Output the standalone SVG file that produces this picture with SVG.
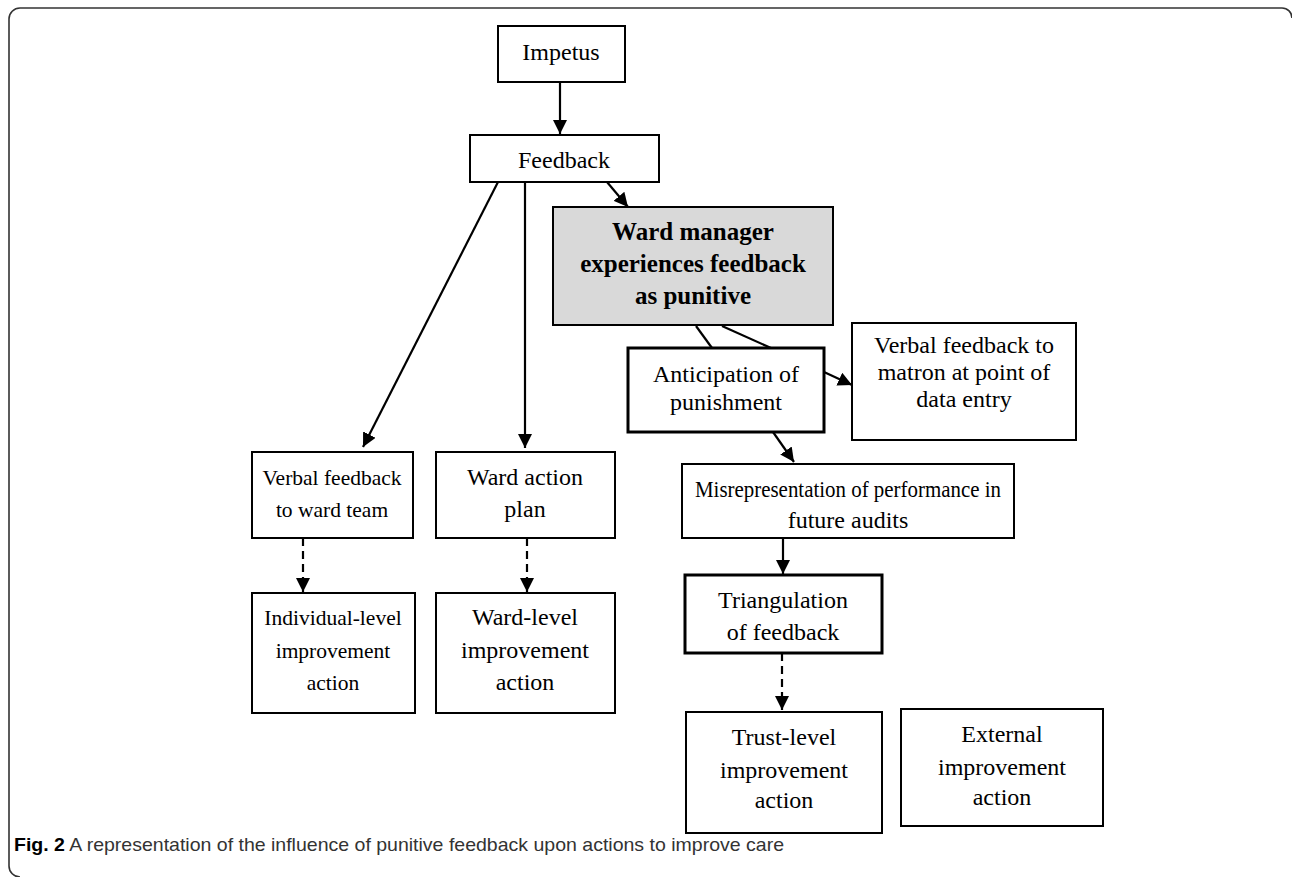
<svg xmlns="http://www.w3.org/2000/svg" width="1292" height="877" viewBox="0 0 1292 877">
<style>
.box{fill:#fff;stroke:#000;stroke-width:2}
.thick{stroke-width:3}
.gray{fill:#d9d9d9}
.t{font-family:"Liberation Serif","Times New Roman",serif;font-size:24px;fill:#000;text-anchor:middle}
.s{font-size:21.5px}
.b{font-weight:bold;font-size:25px}
.c{stroke:#000;stroke-width:2.2;fill:none}
.d{stroke-dasharray:8 5}
.cap{font-family:"Liberation Sans",Arial,sans-serif;font-size:18.5px;fill:#333}
</style>
<defs>
<marker id="ah" markerUnits="userSpaceOnUse" markerWidth="15" markerHeight="14" refX="14" refY="7" orient="auto">
<path d="M0,0 L14,7 L0,14 z" fill="#000"/>
</marker>
</defs>
<rect width="1292" height="877" fill="#fff"/>
<path d="M20,877 A11,11 0 0 1 9,866 L9,19 A11,11 0 0 1 20,8 L1282,8 A10,10 0 0 1 1292,18" fill="none" stroke="#333" stroke-width="1.6"/>

<g id="connectors">
<line class="c" x1="560" y1="82" x2="560" y2="134" marker-end="url(#ah)"/>
<line class="c" x1="498" y1="182" x2="363" y2="447" marker-end="url(#ah)"/>
<line class="c" x1="525" y1="182" x2="525" y2="448" marker-end="url(#ah)"/>
<line class="c" x1="607" y1="182" x2="628" y2="207" marker-end="url(#ah)"/>
<line class="c" x1="696" y1="326" x2="712" y2="348"/>
<line class="c" x1="722" y1="326" x2="771" y2="348"/>
<line class="c" x1="824" y1="372" x2="852" y2="385" marker-end="url(#ah)"/>
<line class="c" x1="773" y1="432" x2="794" y2="462" marker-end="url(#ah)"/>
<line class="c" x1="783" y1="538" x2="783" y2="574" marker-end="url(#ah)"/>
<line class="c d" x1="782" y1="653" x2="782" y2="710" marker-end="url(#ah)"/>
<line class="c d" x1="303" y1="538" x2="303" y2="592" marker-end="url(#ah)"/>
<line class="c d" x1="527" y1="538" x2="527" y2="592" marker-end="url(#ah)"/>
</g>

<g id="impetus"><rect class="box" x="498" y="26" width="127" height="56"/><text class="t" x="561" y="60">Impetus</text></g>
<g id="feedback"><rect class="box" x="470" y="135" width="189" height="47"/><text class="t" x="564" y="168">Feedback</text></g>
<g id="punitive"><rect class="box gray" x="553" y="207" width="280" height="118"/>
<text class="t b" x="693" y="240">Ward manager</text>
<text class="t b" x="693" y="272">experiences feedback</text>
<text class="t b" x="693" y="304">as punitive</text></g>
<g id="anticipation"><rect class="box thick" x="628" y="348" width="196" height="84"/>
<text class="t" x="726" y="382">Anticipation of</text>
<text class="t" x="726" y="410">punishment</text></g>
<g id="matron"><rect class="box" x="852" y="323" width="224" height="117"/>
<text class="t" x="964" y="353">Verbal feedback to</text>
<text class="t" x="964" y="380">matron at point of</text>
<text class="t" x="964" y="407">data entry</text></g>
<g id="misrep"><rect class="box" x="682" y="464" width="332" height="74"/>
<text class="t" x="848" y="497" textLength="306" lengthAdjust="spacingAndGlyphs">Misrepresentation of performance in</text>
<text class="t" x="848" y="528">future audits</text></g>
<g id="triangulation"><rect class="box thick" x="685" y="575" width="197" height="78"/>
<text class="t" x="783" y="608">Triangulation</text>
<text class="t" x="783" y="640">of feedback</text></g>
<g id="trust"><rect class="box" x="686" y="712" width="196" height="121"/>
<text class="t" x="784" y="745">Trust-level</text>
<text class="t" x="784" y="778">improvement</text>
<text class="t" x="784" y="808">action</text></g>
<g id="external"><rect class="box" x="901" y="709" width="202" height="117"/>
<text class="t" x="1002" y="742">External</text>
<text class="t" x="1002" y="775">improvement</text>
<text class="t" x="1002" y="805">action</text></g>
<g id="verbalteam"><rect class="box" x="252" y="452" width="161" height="86"/>
<text class="t s" x="332" y="485">Verbal feedback</text>
<text class="t s" x="332" y="517">to ward team</text></g>
<g id="wardplan"><rect class="box" x="436" y="452" width="179" height="86"/>
<text class="t" x="525" y="485">Ward action</text>
<text class="t" x="525" y="517">plan</text></g>
<g id="individual"><rect class="box" x="252" y="593" width="163" height="120"/>
<text class="t s" x="333" y="625">Individual-level</text>
<text class="t s" x="333" y="658">improvement</text>
<text class="t s" x="333" y="690">action</text></g>
<g id="wardlevel"><rect class="box" x="436" y="593" width="179" height="120"/>
<text class="t" x="525" y="625">Ward-level</text>
<text class="t" x="525" y="658">improvement</text>
<text class="t" x="525" y="690">action</text></g>

<text class="cap" x="14" y="851" textLength="770" lengthAdjust="spacingAndGlyphs"><tspan font-weight="bold" fill="#000">Fig. 2</tspan> A representation of the influence of punitive feedback upon actions to improve care</text>
</svg>
